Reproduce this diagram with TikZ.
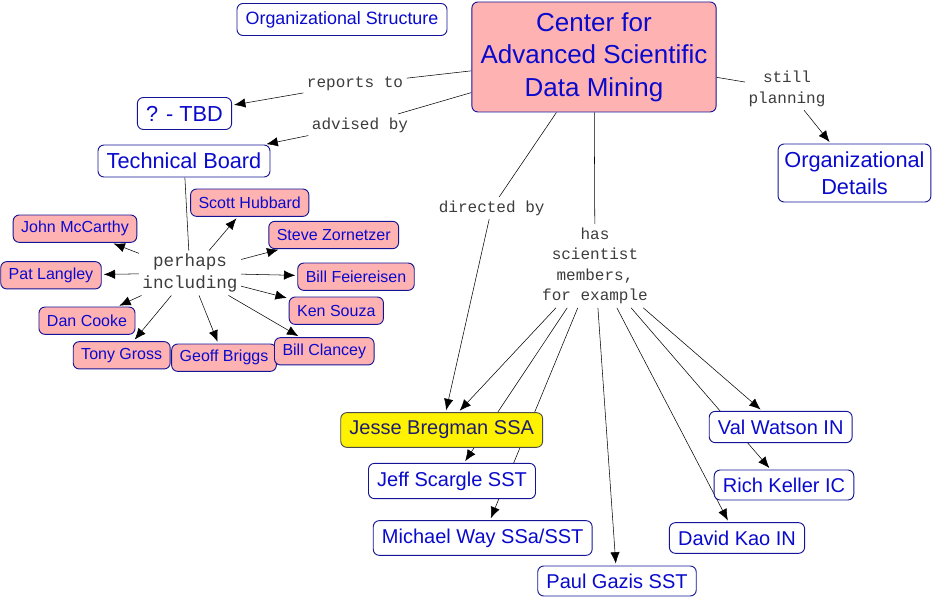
\documentclass[tikz,border=0pt]{standalone}
\usepackage{fontspec}
\setmainfont{Liberation Sans}
\newfontfamily\linkfont{Liberation Mono}
\usepackage{xcolor}
\usetikzlibrary{arrows.meta, backgrounds}

\definecolor{boxline}{RGB}{20,20,150}
\definecolor{boxtext}{RGB}{10,10,205}
\definecolor{pinkfill}{RGB}{255,178,178}
\definecolor{linktext}{RGB}{60,60,60}
\definecolor{darknavy}{RGB}{30,30,110}

\begin{document}
\begin{tikzpicture}[x=0.75pt, y=-0.75pt,
		conceptbox/.style={draw=boxline, fill=white, text=boxtext, line width=0.7pt, rounded corners=4.5pt,
			inner xsep=6.5pt, inner ysep=2pt, minimum height=24pt, align=center, font=\fontsize{15}{18}\selectfont},
		bigbox/.style={conceptbox, font=\fontsize{16.3}{20}\selectfont},
		personbox/.style={conceptbox, fill=pinkfill, inner xsep=6pt, minimum height=20.5pt, font=\fontsize{12}{14}\selectfont},
		linkphrase/.style={text=linktext, align=center, inner sep=2.5pt, font=\linkfont\fontsize{12}{15.4}\selectfont}]
	
	\useasboundingbox (0,0) rectangle (936,598);
	
	\node [conceptbox, font=\fontsize{13.4}{16}\selectfont] (orgstruct) at (342,19.5) {Organizational Structure};
	\node [conceptbox, fill=pinkfill, minimum width=183pt, minimum height=82.5pt, font=\fontsize{19.5}{24.4}\selectfont] (center) at (594,57) {Center for\\Advanced Scientific\\Data Mining};
	\node [bigbox] (tbd) at (184.5,113.5) {? - TBD};
	\node [bigbox] (board) at (184,161) {Technical Board};
	\node [bigbox, inner xsep=4.75pt, minimum height=43.5pt] (details) at (854.5,173) {Organizational\\Details};
	
	\node [linkphrase] (reports) at (355,84) {reports to};
	\node [linkphrase] (advised) at (360,125) {advised by};
	\node [linkphrase] (planning) at (787,89) {still\\planning};
	\node [linkphrase] (directed) at (491.7,208) {directed by};
	\node [linkphrase] (has) at (595,266) {has\\scientist\\members,\\for example};
	\node [linkphrase, font=\linkfont\fontsize{13.2}{16}\selectfont] (perhaps) at (190,273) {perhaps\\including};
	
	\node [personbox] (mccarthy) at (75,228.7) {John McCarthy};
	\node [personbox] (hubbard) at (249.7,202.7) {Scott Hubbard};
	\node [personbox] (zornetzer) at (333.7,235) {Steve Zornetzer};
	\node [personbox] (langley) at (51,275.3) {Pat Langley};
	\node [personbox] (feiereisen) at (356,276.7) {Bill Feiereisen};
	\node [personbox] (souza) at (336.3,310.7) {Ken Souza};
	\node [personbox] (cooke) at (87,320.7) {Dan Cooke};
	\node [personbox] (gross) at (121.7,355.3) {Tony Gross};
	\node [personbox] (briggs) at (224,357.7) {Geoff Briggs};
	\node [personbox] (clancey) at (324.3,351.3) {Bill Clancey};
	
	\node [conceptbox, fill=yellow, draw=black!70, text=darknavy, minimum height=26pt] (bregman) at (441.7,430) {Jesse Bregman SSA};
	\node [conceptbox, minimum height=26.5pt] (scargle) at (452,481) {Jeff Scargle SST};
	\node [conceptbox, minimum height=26pt] (way) at (482.7,538) {Michael Way SSa/SST};
	\node [conceptbox, minimum height=22.5pt] (gazis) at (617,581) {Paul Gazis SST};
	\node [conceptbox, minimum height=23.5pt] (watson) at (780.7,427) {Val Watson IN};
	\node [conceptbox, minimum height=22.5pt] (keller) at (784,485) {Rich Keller IC};
	\node [conceptbox, minimum height=23pt] (kao) at (737,538) {David Kao IN};
	
	\begin{scope}[on background layer, line width=0.6pt]
		\draw (center) -- (reports);
		\draw (center) -- (advised);
		\draw (center) -- (planning);
		\draw (center) -- (directed);
		\draw (center) -- (has);
		\draw (board) -- (perhaps);
		
		\begin{scope}[-{Latex[length=8.5pt, width=7pt]}, shorten >=1.5pt]
			\draw (reports) -- (tbd);
			\draw (advised) -- (board);
			\draw (planning) -- (details);
			\draw (directed) -- (bregman);
			\foreach \who in {mccarthy, hubbard, zornetzer, langley, feiereisen, souza, cooke, gross, briggs, clancey}
				\draw (perhaps) -- (\who);
			\foreach \who in {bregman, scargle, way, gazis, kao, keller, watson}
				\draw (has) -- (\who);
		\end{scope}
	\end{scope}
\end{tikzpicture}
\end{document}
